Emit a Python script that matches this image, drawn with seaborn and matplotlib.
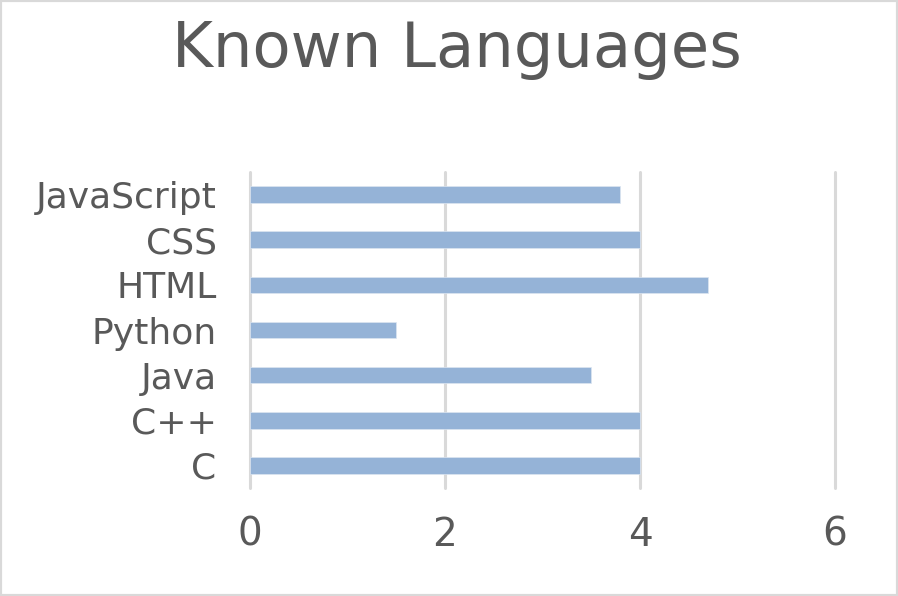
import matplotlib
matplotlib.use("Agg")
import matplotlib.pyplot as plt
import seaborn as sns
import pandas as pd
from matplotlib.patches import Rectangle

languages = ["JavaScript", "CSS", "HTML", "Python", "Java", "C++", "C"]
known = [3.8, 4.0, 4.7, 1.5, 3.5, 4.0, 4.0]
x_ticks = [0, 2, 4, 6]

df = pd.DataFrame({"language": languages, "known": known})

sns.set_theme(style="white")
plt.rcParams["font.family"] = ["DejaVu Sans"]
text_color = "#595959"
grid_color = "#d9d9d9"

fig = plt.figure(figsize=(8.98, 5.96), dpi=100)
ax = fig.add_axes([250 / 898, 1 - 488 / 596, 585 / 898, 316 / 596])

sns.barplot(data=df, y="language", x="known", order=languages, orient="h",
            color="#95B3D7", saturation=1, width=0.37, ax=ax, zorder=3,
            edgecolor="#dce6f1", linewidth=0.5)

ax.set_xlim(0, 6)
ax.set_ylim(6.5, -0.5)
ax.set_xticks(x_ticks)
ax.set_xticklabels([str(t) for t in x_ticks])
ax.grid(axis="x", color=grid_color, linewidth=2.2, zorder=0)
ax.grid(axis="y", visible=False)
for gl in ax.get_xgridlines():
    gl.set_clip_on(False)
for s in ax.spines.values():
    s.set_visible(False)
ax.tick_params(axis="both", length=0, labelcolor=text_color)
ax.tick_params(axis="x", pad=20, labelsize=28)
ax.tick_params(axis="y", pad=24, labelsize=26)
ax.set_xlabel("")
ax.set_ylabel("")

fig.text(457 / 898, 1 - 50 / 596, "Known Languages", ha="center", va="center",
         fontsize=45, color=text_color)

fig.patches.append(Rectangle((0, 0), 1, 1, transform=fig.transFigure,
                             fill=False, edgecolor=grid_color, linewidth=3))

fig.savefig("out.png", dpi=100, facecolor="white")
